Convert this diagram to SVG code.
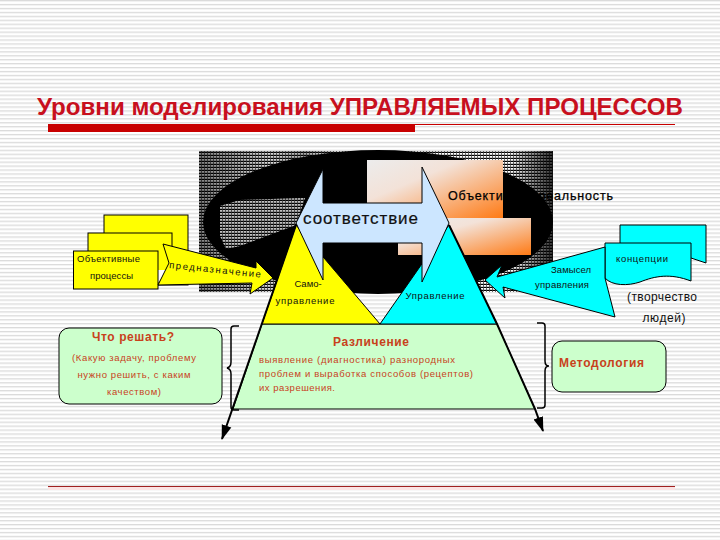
<svg xmlns="http://www.w3.org/2000/svg" width="720" height="540" viewBox="0 0 720 540">
<style>
text{font-family:"Liberation Sans",Arial,sans-serif;fill:#111}
.s{font-size:9.5px}
.r{fill:#c8421c}
.b{font-weight:bold}
.t{font-size:12px;fill:#111}
.e{stroke:#000;stroke-width:1}
.m{text-anchor:middle}
</style>
<defs>
<pattern id="bg" width="10" height="3.94" patternUnits="userSpaceOnUse"><rect width="10" height="3.94" fill="#fff"/><rect y="0.1" width="10" height="1.2" fill="#d8d8d8"/></pattern>
<pattern id="plaid" width="3" height="3" patternUnits="userSpaceOnUse"><rect width="3" height="3" fill="#000"/><rect width="3" height="1.8" fill="#fff"/><rect width="0.8" height="3" fill="#444"/></pattern>
<linearGradient id="shade" x1="0" x2="1" y1="0" y2="0"><stop offset="0" stop-color="#000" stop-opacity=".5"/><stop offset=".2" stop-color="#000" stop-opacity=".15"/><stop offset=".3" stop-color="#000" stop-opacity=".35"/><stop offset=".4" stop-color="#000" stop-opacity="0"/><stop offset=".88" stop-color="#000" stop-opacity="0"/><stop offset="1" stop-color="#000" stop-opacity=".8"/></linearGradient>
<linearGradient id="peach" x1="0" y1="0" x2="1" y2="1"><stop offset="0" stop-color="#ececec"/><stop offset=".35" stop-color="#f3e2d8"/><stop offset="1" stop-color="#ff7a14"/></linearGradient>
<marker id="ah" viewBox="0 0 15 12" refX="14" refY="6" markerWidth="15" markerHeight="12" markerUnits="userSpaceOnUse" orient="auto"><path d="M0 1L15 6L0 11Z" fill="#000"/></marker>
</defs>
<rect width="720" height="540" fill="url(#bg)"/>
<g id="title">
<text x="37" y="115" font-size="23.500" class="b" style="fill:#c8101e" textLength="646" lengthAdjust="spacingAndGlyphs">Уровни моделирования УПРАВЛЯЕМЫХ ПРОЦЕССОВ</text>
<rect x="48" y="124" width="367" height="8" fill="#c80000"/>
<rect x="415" y="124" width="260" height="1" fill="#c80000"/>
</g>
<g id="backdrop">
<rect x="199" y="151" width="354" height="141" fill="url(#plaid)"/>
<rect x="199" y="151" width="354" height="141" fill="url(#shade)"/>
<ellipse cx="378" cy="222" rx="175" ry="72" fill="#000"/>
<path d="M220 206L240 200L305 198L296 225L240 246L226 249L220 236Z" fill="url(#plaid)"/>
<path d="M220 206L240 200L305 198L296 225L240 246L226 249L220 236Z" fill="#000" opacity=".25"/>
<rect x="367" y="160" width="136" height="58" fill="url(#peach)"/>
<rect x="398" y="218" width="133" height="37" fill="url(#peach)"/>
</g>
<g id="reality"><text x="448" y="200" font-size="12.5" textLength="165" lengthAdjust="spacing" style="fill:#000;stroke:#000;stroke-width:.25">Объективная реальность</text></g>
<g id="pyramid">
<path d="M262 324L497 324L535 409L233 409Z" fill="#ccffcc" class="e"/>
<path d="M296 225L380 324L262 324Z" fill="#ffff00" class="e"/>
<path d="M449 225L497 324L380 324Z" fill="#00ffff" class="e"/>
<text x="308" y="287" class="s m">Само-</text>
<text x="305" y="304" class="s m" textLength="59">управление</text>
<text x="435" y="299" class="s m" textLength="59">Управление</text>
<text x="371" y="346" font-size="12" class="r b m" textLength="76">Различение</text>
<text x="259" y="363" class="s r" textLength="196">выявление (диагностика) разнородных</text>
<text x="259" y="377" class="s r" textLength="214">проблем и выработка способов (рецептов)</text>
<text x="259" y="391" class="s r" textLength="76">их разрешения.</text>
</g>
<g id="match">
<path d="M296 223L323 169L323 203L422 203L422 167L449 223L422 282L422 243L323 243L323 280Z" fill="#cce6ff" class="e"/>
<text x="303" y="224" font-size="17" textLength="115" style="stroke:#111;stroke-width:.2">соответствие</text>
</g>
<g id="processes">
<rect x="104" y="215" width="84" height="70" fill="#ffff00" class="e"/>
<rect x="88" y="233" width="84" height="50" fill="#ffff00" class="e"/>
<path d="M158 270H167L158 283Z" fill="#fff"/>
<rect x="73.500" y="251" width="84.500" height="38" fill="#ffff00" class="e"/>
<text x="77" y="262" class="s" textLength="63">Объективные</text>
<text x="90" y="279" class="s" textLength="43">процессы</text>
</g>
<g id="concepts">
<path d="M620 225H706V263L691 258H620Z" fill="#00ffff" class="e"/>
<path d="M605 243H691V281C670 273 655 276 640 282C628 286 612 286 605 278Z" fill="#00ffff" class="e"/>
<text x="642" y="262" class="s m" textLength="52">концепции</text>
<text x="662" y="301" class="t m" textLength="70">(творчество</text>
<text x="664" y="322" class="t m" textLength="43">людей)</text>
</g>
<g id="connectors">
<path d="M163 244L256 268L256 261L273 278L250 294L252 283L158 285L169 263Z" fill="#ffff00" class="e"/>
<path d="M605 247L497 277L502 265L485 280L505 298L503 287L615 317L605 278Z" fill="#00ffff" class="e"/>
<path d="M296 225L222 439" fill="none" stroke="#000" stroke-width="2" marker-end="url(#ah)"/>
<path d="M449 225L497 324L535 409L543 431" fill="none" stroke="#000" stroke-width="2" marker-end="url(#ah)"/>
<path d="M239 326H234Q231 326 231 329V362Q231 367 227 368Q231 369 231 374V407Q231 410 234 410H239" fill="none" stroke="#000" stroke-width="1.500"/>
<path d="M537 323H542Q545 323 545 326V361Q545 366 549 366Q545 366 545 371V405Q545 408 542 408H537" fill="none" stroke="#000" stroke-width="1.500"/>
<text transform="translate(169 268) rotate(6)" class="s" textLength="92">предназначение</text>
<text x="571" y="273" class="s m" textLength="40">Замысел</text>
<text x="562" y="288" class="s m" textLength="54">управления</text>
</g>
<g id="what">
<rect x="59" y="328" width="163" height="76" rx="10" fill="#ccffcc" stroke="#000"/>
<text x="133" y="341" font-size="12" class="r b m" textLength="82">Что решать?</text>
<text x="134" y="361" class="s r m" textLength="124">(Какую задачу, проблему</text>
<text x="134" y="378" class="s r m" textLength="113">нужно решить, с каким</text>
<text x="134" y="395" class="s r m" textLength="54">качеством)</text>
</g>
<g id="method">
<rect x="552" y="341" width="114" height="51" rx="10" fill="#ccffcc" stroke="#000"/>
<text x="559" y="367" font-size="12" class="r b" textLength="85">Методология</text>
</g>
<g id="footer"><rect x="48" y="486" width="627" height="1" fill="#a02020"/><rect x="48" y="487" width="627" height="3" fill="#fbe3e3"/></g>
</svg>
